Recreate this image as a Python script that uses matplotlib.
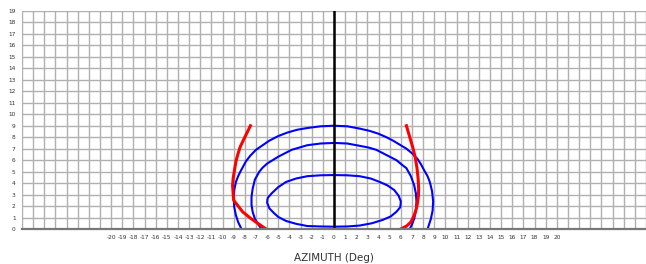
import matplotlib.pyplot as plt
import numpy as np

# curve points (azimuth deg, elevation)
outer_x = [-8.3, -8.6, -8.8, -8.95, -9.0, -8.95, -8.8, -8.6, -8.4, -7.9, -7.5, -7.0,
           -6.4, -5.8, -5.0, -4.2, -3.3, -2.4, -1.2, 0.0,
           1.2, 2.3, 3.2, 4.0, 4.7, 5.3, 5.9, 6.5, 7.0, 7.5, 7.8, 8.1, 8.4, 8.6,
           8.8, 8.9, 8.85, 8.7, 8.55, 8.4]
outer_y = [0.0, 0.6, 1.2, 1.9, 2.7, 3.4, 4.1, 4.6, 5.0, 5.9, 6.4, 6.9,
           7.3, 7.7, 8.1, 8.4, 8.65, 8.8, 8.95, 9.0,
           8.95, 8.75, 8.55, 8.3, 8.0, 7.7, 7.35, 7.0, 6.6, 6.1, 5.65, 5.1, 4.6, 4.1,
           3.3, 2.4, 1.6, 0.9, 0.45, 0.0]

middle_x = [-6.5, -6.8, -7.1, -7.3, -7.4, -7.4, -7.3, -7.1, -6.7, -6.4, -6.0,
            -5.5, -5.0, -4.4, -3.8, -3.1, -2.4, -1.2, 0.0,
            1.2, 2.3, 3.1, 3.8, 4.4, 5.0, 5.6, 6.1, 6.5, 6.9, 7.2, 7.35, 7.4,
            7.35, 7.2, 7.0, 6.8]
middle_y = [0.0, 0.4, 0.9, 1.5, 2.1, 2.8, 3.5, 4.3, 5.0, 5.35, 5.7,
            6.0, 6.3, 6.6, 6.9, 7.1, 7.3, 7.45, 7.5,
            7.45, 7.25, 7.1, 6.9, 6.6, 6.3, 6.0, 5.6, 5.3, 4.6, 3.8, 3.1, 2.4,
            1.6, 0.9, 0.4, 0.0]

inner_x = [0.0, 1.2, 2.3, 3.3, 4.1, 4.8, 5.4, 5.8, 6.0, 5.95, 5.6, 5.1, 4.4, 3.4,
           2.3, 1.2, 0.0, -1.2, -2.4, -3.4, -4.3, -5.0, -5.4, -5.8, -6.0, -5.95,
           -5.6, -5.0, -4.3, -3.4, -2.4, -1.2, 0.0]
inner_y = [4.7, 4.68, 4.6, 4.4, 4.1, 3.8, 3.4, 2.9, 2.4, 1.9, 1.5, 1.1, 0.8, 0.5,
           0.3, 0.22, 0.2, 0.22, 0.26, 0.45, 0.7, 1.05, 1.4, 1.8, 2.3, 2.7,
           3.1, 3.65, 4.1, 4.4, 4.6, 4.68, 4.7]

red_left_x = [-7.5, -7.8, -8.1, -8.4, -8.6, -8.8, -8.95, -9.05, -9.1, -9.05, -9.0,
              -8.6, -8.2, -7.7, -7.3, -6.7, -6.1]
red_left_y = [9.0, 8.4, 7.8, 7.2, 6.6, 5.9, 5.0, 4.4, 3.8, 3.1, 2.5,
              2.0, 1.5, 1.1, 0.8, 0.4, 0.0]

red_right_x = [6.5, 6.65, 6.8, 6.95, 7.1, 7.3, 7.45, 7.55, 7.6, 7.58, 7.5, 7.4,
               7.2, 6.9, 6.5, 6.0]
red_right_y = [9.0, 8.5, 8.0, 7.5, 7.0, 6.2, 5.3, 4.4, 3.5, 2.9, 2.3, 1.8,
               1.2, 0.6, 0.25, 0.0]

x_ticks = list(range(-20, 21))
y_ticks = list(range(0, 20))

fig = plt.figure(figsize=(6.46, 2.64), dpi=100)
ax = fig.add_axes([0.034, 0.1326, 0.966, 0.8258])

ax.set_xlim(-28, 28)
ax.set_ylim(0, 19)

# grid at every unit
for gx in range(-28, 29):
    ax.axvline(gx, color='#b0b0b0', lw=1.0, zorder=1)
for gy in range(1, 20):
    ax.axhline(gy, color='#b0b0b0', lw=1.0, zorder=1)

ax.plot(outer_x, outer_y, color='#0000ff', lw=1.5, zorder=3)
ax.plot(middle_x, middle_y, color='#0000ff', lw=1.5, zorder=3)
ax.plot(inner_x, inner_y, color='#0000ff', lw=1.5, zorder=3)
ax.plot(red_left_x, red_left_y, color='#ff0000', lw=2.2, zorder=4)
ax.plot(red_right_x, red_right_y, color='#ff0000', lw=2.2, zorder=4)
ax.axvline(0, color='black', lw=1.8, zorder=5)

ax.set_xticks(x_ticks)
ax.set_xticklabels([str(t) for t in x_ticks], fontsize=4.2, color='#333333')
ax.set_yticks(y_ticks)
ax.set_yticklabels([str(t) for t in y_ticks], fontsize=4.2, color='#333333')
ax.tick_params(length=0, pad=4.5)

for side in ['top', 'right', 'left']:
    ax.spines[side].set_visible(False)
ax.spines['bottom'].set_color('#777777')
ax.spines['bottom'].set_linewidth(1.6)
ax.spines['bottom'].set_zorder(6)

ax.set_xlabel('AZIMUTH (Deg)', fontsize=7.5, color='#333333', labelpad=9)

fig.savefig('out.png', dpi=100)
